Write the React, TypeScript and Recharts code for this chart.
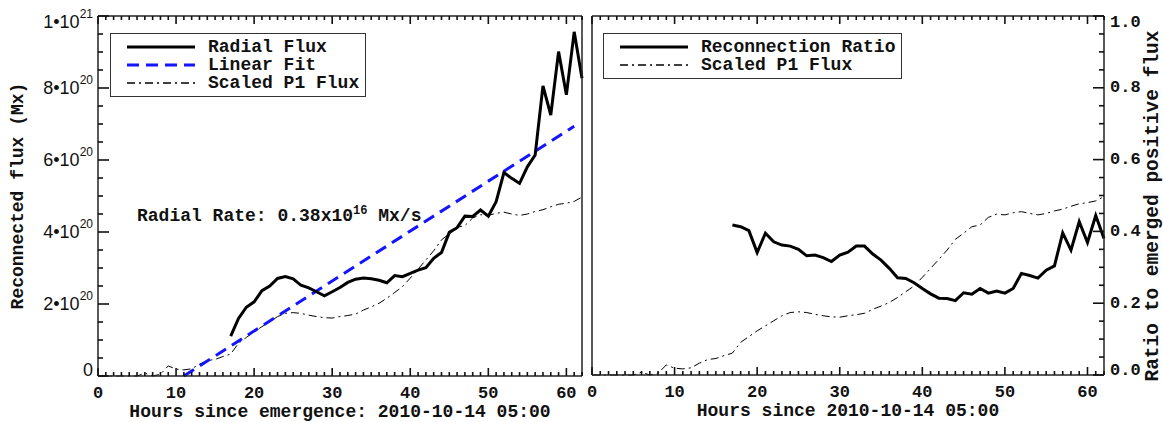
import { LineChart, Line, XAxis, YAxis, Legend } from "recharts";

// hours since emergence
const hours = Array.from({ length: 63 }, (_, i) => i);
const majorHours = [0, 10, 20, 30, 40, 50, 60];

// scaled P1 flux, 1e20 Mx, hour 0..62
const p1Flux = [
  0, 0, 0, 0, 0, 0, 0.08, 0, 0.05, 0.28, 0.19, 0.17, 0.2, 0.33, 0.43, 0.46, 0.54, 0.61, 0.91, 1.07,
  1.23, 1.37, 1.51, 1.65, 1.74, 1.76, 1.74, 1.69, 1.65, 1.62, 1.61, 1.65, 1.68, 1.72, 1.83, 1.92,
  2.02, 2.16, 2.32, 2.48, 2.72, 2.97, 3.22, 3.48, 3.78, 3.95, 4.13, 4.18, 4.39, 4.48, 4.46, 4.52,
  4.55, 4.5, 4.46, 4.5, 4.57, 4.62, 4.7, 4.77, 4.8, 4.85, 4.97,
];

// radial reconnected flux, 1e20 Mx, hour 17..62
const radialStart = 17;
const radialFlux = [
  1.11, 1.6, 1.91, 2.06, 2.37, 2.5, 2.71, 2.76, 2.7, 2.52, 2.45, 2.34, 2.23, 2.34, 2.46, 2.6, 2.69,
  2.72, 2.7, 2.66, 2.59, 2.79, 2.76, 2.85, 2.94, 3.01, 3.27, 3.43, 3.99, 4.12, 4.44, 4.43, 4.61,
  4.44, 4.84, 5.65, 5.49, 5.35, 5.81, 6.14, 8.06, 7.25, 9.01, 7.81, 9.56, 8.27,
];

// reconnection ratio, hour 17..62
const ratio = [
  0.418, 0.413, 0.402, 0.341, 0.395, 0.371, 0.362, 0.359, 0.35, 0.332, 0.334, 0.327, 0.316, 0.334,
  0.342, 0.359, 0.359, 0.337, 0.32, 0.297, 0.271, 0.269, 0.257, 0.241, 0.226, 0.214, 0.213, 0.207,
  0.229, 0.225, 0.241, 0.228, 0.234, 0.228, 0.241, 0.283, 0.277, 0.27, 0.292, 0.304, 0.396, 0.348,
  0.427, 0.369, 0.444, 0.38,
];

// linear fit end points
const fitHours = [11, 61];
const fitFlux = [0, 6.94];

// axis ticks
const fluxTicks = Array.from({ length: 21 }, (_, i) => i * 0.5);
const fluxMajor = [0, 2, 4, 6, 8, 10];
const fluxMantissa = ["0", "2", "4", "6", "8", "1"];
const fluxExponent = ["", "20", "20", "20", "20", "21"];
const ratioTicks = Array.from({ length: 21 }, (_, i) => Math.round(i * 5) / 100);
const ratioMajor = [0, 0.2, 0.4, 0.6, 0.8, 1.0];
const ratioLabels = ["0.0", "0.2", "0.4", "0.6", "0.8", "1.0"];

const table = hours.map((h) => {
  const i = h - radialStart;
  const f = fitHours.indexOf(h);
  return {
    h,
    p1: p1Flux[h],
    p1Scaled: p1Flux[h] / 10,
    radial: i >= 0 ? radialFlux[i] : null,
    ratio: i >= 0 ? ratio[i] : null,
    fit: f >= 0 ? fitFlux[f] : null,
  };
});

const MONO = "'Liberation Mono', 'DejaVu Sans Mono', monospace";
const SANS = "'Liberation Sans', Arial, sans-serif";
const AXIS = "#222";
const TICK = "#111";
const TW = 1.6;
const BLUE = "#1414ff";

const isMajor = (list: number[], v: number) => list.some((m) => Math.abs(m - v) < 1e-6);

const BottomTick = (props: any) => {
  const { x, y, payload } = props;
  const major = isMajor(majorHours, payload.value);
  return (
    <g>
      <line x1={x} x2={x} y1={y} y2={y - (major ? 8 : 4)} stroke={TICK} strokeWidth={TW} />
      {major && (
        <text x={x} y={y + 17} textAnchor="middle" dominantBaseline="central"
          style={{ fontFamily: MONO, fontWeight: 700, fontSize: 17, fill: "#111" }}>
          {payload.value}
        </text>
      )}
    </g>
  );
};

const TopTick = (props: any) => {
  const { x, y, payload } = props;
  const major = isMajor(majorHours, payload.value);
  return <line x1={x} x2={x} y1={y} y2={y + (major ? 8 : 4)} stroke={TICK} strokeWidth={TW} />;
};

const FluxLeftTick = (props: any) => {
  const { x, y, payload } = props;
  const v = payload.value;
  const k = fluxMajor.findIndex((m) => Math.abs(m - v) < 1e-6);
  const shift = v === 0 ? -6 : v === 10 ? 6 : 0;
  return (
    <g>
      <line x1={x} x2={x + (k >= 0 ? 11 : 5)} y1={y} y2={y} stroke={TICK} strokeWidth={TW} />
      {k >= 0 && (
        <text x={x - 5} y={y + shift} textAnchor="end" dominantBaseline="central"
          style={{ fontFamily: SANS, fontSize: 18, fill: "#111" }}>
          {k === 0 ? fluxMantissa[k] : `${fluxMantissa[k]}\u202210`}
          {k > 0 && (
            <tspan dy={-8} fontSize={12}>{fluxExponent[k]}</tspan>
          )}
        </text>
      )}
    </g>
  );
};

const InnerRightTick = (major: number[]) => (props: any) => {
  const { x, y, payload } = props;
  const m = isMajor(major, payload.value);
  return <line x1={x} x2={x - (m ? 11 : 5)} y1={y} y2={y} stroke={TICK} strokeWidth={TW} />;
};

const InnerLeftTick = (major: number[]) => (props: any) => {
  const { x, y, payload } = props;
  const m = isMajor(major, payload.value);
  return <line x1={x} x2={x + (m ? 11 : 5)} y1={y} y2={y} stroke={TICK} strokeWidth={TW} />;
};

const RatioRightTick = (props: any) => {
  const { x, y, payload } = props;
  const v = payload.value;
  const k = ratioMajor.findIndex((m) => Math.abs(m - v) < 1e-6);
  const shift = k === 0 ? -5 : k === 5 ? 6 : 0;
  return (
    <g>
      <line x1={x} x2={x - (k >= 0 ? 11 : 5)} y1={y} y2={y} stroke={TICK} strokeWidth={TW} />
      {k >= 0 && (
        <text x={x + 6} y={y + shift} textAnchor="start" dominantBaseline="central"
          style={{ fontFamily: MONO, fontWeight: 700, fontSize: 17, fill: "#111" }}>
          {ratioLabels[k]}
        </text>
      )}
    </g>
  );
};

const BottomTitle = (props: any) => {
  const { viewBox, text } = props;
  return (
    <text x={viewBox.x + viewBox.width / 2} y={viewBox.y + 36} textAnchor="middle" dominantBaseline="central"
      style={{ fontFamily: MONO, fontWeight: 700, fontSize: 18, fill: "#111" }}>
      {text}
    </text>
  );
};

const SideTitle = (props: any) => {
  const { viewBox, text, dx, cy, size } = props;
  const cx = viewBox.x + dx;
  return (
    <text x={cx} y={cy} transform={`rotate(-90 ${cx} ${cy})`} textAnchor="middle" dominantBaseline="central"
      style={{ fontFamily: MONO, fontWeight: 700, fontSize: size, fill: "#111" }}>
      {text}
    </text>
  );
};

type LegendItem = { label: string; color: string; width: number; dash?: string };

const legendLeft: LegendItem[] = [
  { label: "Radial Flux", color: "#000", width: 3 },
  { label: "Linear Fit", color: BLUE, width: 3, dash: "12 7" },
  { label: "Scaled P1 Flux", color: "#000", width: 1.6, dash: "8 4 2 4" },
];
const legendRight: LegendItem[] = [
  { label: "Reconnection Ratio", color: "#000", width: 3 },
  { label: "Scaled P1 Flux", color: "#000", width: 1.6, dash: "8 4 2 4" },
];

const LegendBox = ({ items }: { items: LegendItem[] }) => (
  <div style={{ border: "1.5px solid #333", background: "#fff", padding: "4px 0 4px 0", boxSizing: "border-box" }}>
    {items.map((it) => (
      <div key={it.label} style={{ display: "flex", alignItems: "center", height: 18 }}>
        <svg width={97} height={18} style={{ flex: "none" }}>
          <line x1={16} x2={84} y1={9} y2={9} stroke={it.color} strokeWidth={it.width} strokeDasharray={it.dash} />
        </svg>
        <span style={{ fontFamily: MONO, fontWeight: 700, fontSize: 18, color: "#111", whiteSpace: "pre" }}>{it.label}</span>
      </div>
    ))}
  </div>
);

export default function App() {
  return (
    <div style={{ position: "absolute", left: 0, top: 0, width: 1163, height: 422, background: "#fff" }}>
      <div style={{ position: "absolute", left: 0, top: 0 }}>
        <LineChart width={587} height={422} data={table} margin={{ top: 0, right: 0, bottom: 0, left: 0 }}>
          <XAxis xAxisId="b" dataKey="h" type="number" domain={[0, 62]} ticks={hours} interval={0}
            orientation="bottom" height={46} tickSize={0} tickMargin={0} tickLine={false}
            axisLine={{ stroke: AXIS, strokeWidth: 1.5 }} tick={<BottomTick />}
            label={<BottomTitle text="Hours since emergence: 2010-10-14 05:00" />} />
          <XAxis xAxisId="t" dataKey="h" type="number" domain={[0, 62]} ticks={hours} interval={0}
            orientation="top" height={16} tickSize={0} tickMargin={0} tickLine={false}
            axisLine={{ stroke: AXIS, strokeWidth: 1.5 }} tick={<TopTick />} />
          <YAxis yAxisId="l" type="number" domain={[0, 10]} ticks={fluxTicks} interval={0} width={98}
            tickSize={0} tickMargin={0} tickLine={false} axisLine={{ stroke: AXIS, strokeWidth: 1.5 }}
            tick={<FluxLeftTick />} label={<SideTitle text="Reconnected flux (Mx)" dx={18} cy={196} size={18} />} />
          <YAxis yAxisId="r" orientation="right" type="number" domain={[0, 10]} ticks={fluxTicks} interval={0}
            width={5} tickSize={0} tickMargin={0} tickLine={false} axisLine={{ stroke: AXIS, strokeWidth: 1.5 }}
            tick={InnerRightTick(fluxMajor)} />
          <Legend layout="horizontal" verticalAlign="middle" align="center"
            wrapperStyle={{ left: 110, top: 33, width: 256 }}
            content={() => <LegendBox items={legendLeft} />} />
          <Line xAxisId="b" yAxisId="l" dataKey="p1" stroke="#000" strokeWidth={1} strokeDasharray="8 4 2 4"
            dot={false} isAnimationActive={false} legendType="none" />
          <Line xAxisId="b" yAxisId="l" dataKey="fit" stroke={BLUE} strokeWidth={3} strokeDasharray="12 7"
            dot={false} connectNulls isAnimationActive={false} />
          <Line xAxisId="b" yAxisId="l" dataKey="radial" stroke="#000" strokeWidth={3}
            dot={false} isAnimationActive={false} />
        </LineChart>
        <div style={{ position: "absolute", left: 137, top: 204, fontFamily: MONO, fontWeight: 700, fontSize: 18,
          color: "#111", whiteSpace: "pre", lineHeight: "24px" }}>
          Radial Rate: 0.38x10<sup style={{ fontSize: 12, verticalAlign: "7px", lineHeight: 0 }}>16</sup> Mx/s
        </div>
      </div>
      <div style={{ position: "absolute", left: 587, top: 0 }}>
        <LineChart width={576} height={422} data={table} margin={{ top: 0, right: 0, bottom: 0, left: 0 }}>
          <XAxis xAxisId="b" dataKey="h" type="number" domain={[0, 62]} ticks={hours} interval={0}
            orientation="bottom" height={47} tickSize={0} tickMargin={0} tickLine={false}
            axisLine={{ stroke: AXIS, strokeWidth: 1.5 }} tick={<BottomTick />}
            label={<BottomTitle text="Hours since 2010-10-14 05:00" />} />
          <XAxis xAxisId="t" dataKey="h" type="number" domain={[0, 62]} ticks={hours} interval={0}
            orientation="top" height={16} tickSize={0} tickMargin={0} tickLine={false}
            axisLine={{ stroke: AXIS, strokeWidth: 1.5 }} tick={<TopTick />} />
          <YAxis yAxisId="l" type="number" domain={[0, 1]} ticks={ratioTicks} interval={0} width={5}
            tickSize={0} tickMargin={0} tickLine={false} axisLine={{ stroke: AXIS, strokeWidth: 1.5 }}
            tick={InnerLeftTick(ratioMajor)} />
          <YAxis yAxisId="r" orientation="right" type="number" domain={[0, 1]} ticks={ratioTicks} interval={0}
            width={59} tickSize={0} tickMargin={0} tickLine={false} axisLine={{ stroke: AXIS, strokeWidth: 1.5 }}
            tick={<RatioRightTick />}
            label={<SideTitle text="Ratio to emerged positive flux" dx={49} cy={206} size={19.5} />} />
          <Legend layout="horizontal" verticalAlign="middle" align="center"
            wrapperStyle={{ left: 16, top: 33, width: 299 }}
            content={() => <LegendBox items={legendRight} />} />
          <Line xAxisId="b" yAxisId="r" dataKey="p1Scaled" stroke="#000" strokeWidth={1} strokeDasharray="8 4 2 4"
            dot={false} isAnimationActive={false} />
          <Line xAxisId="b" yAxisId="r" dataKey="ratio" stroke="#000" strokeWidth={3}
            dot={false} isAnimationActive={false} />
        </LineChart>
      </div>
    </div>
  );
}
